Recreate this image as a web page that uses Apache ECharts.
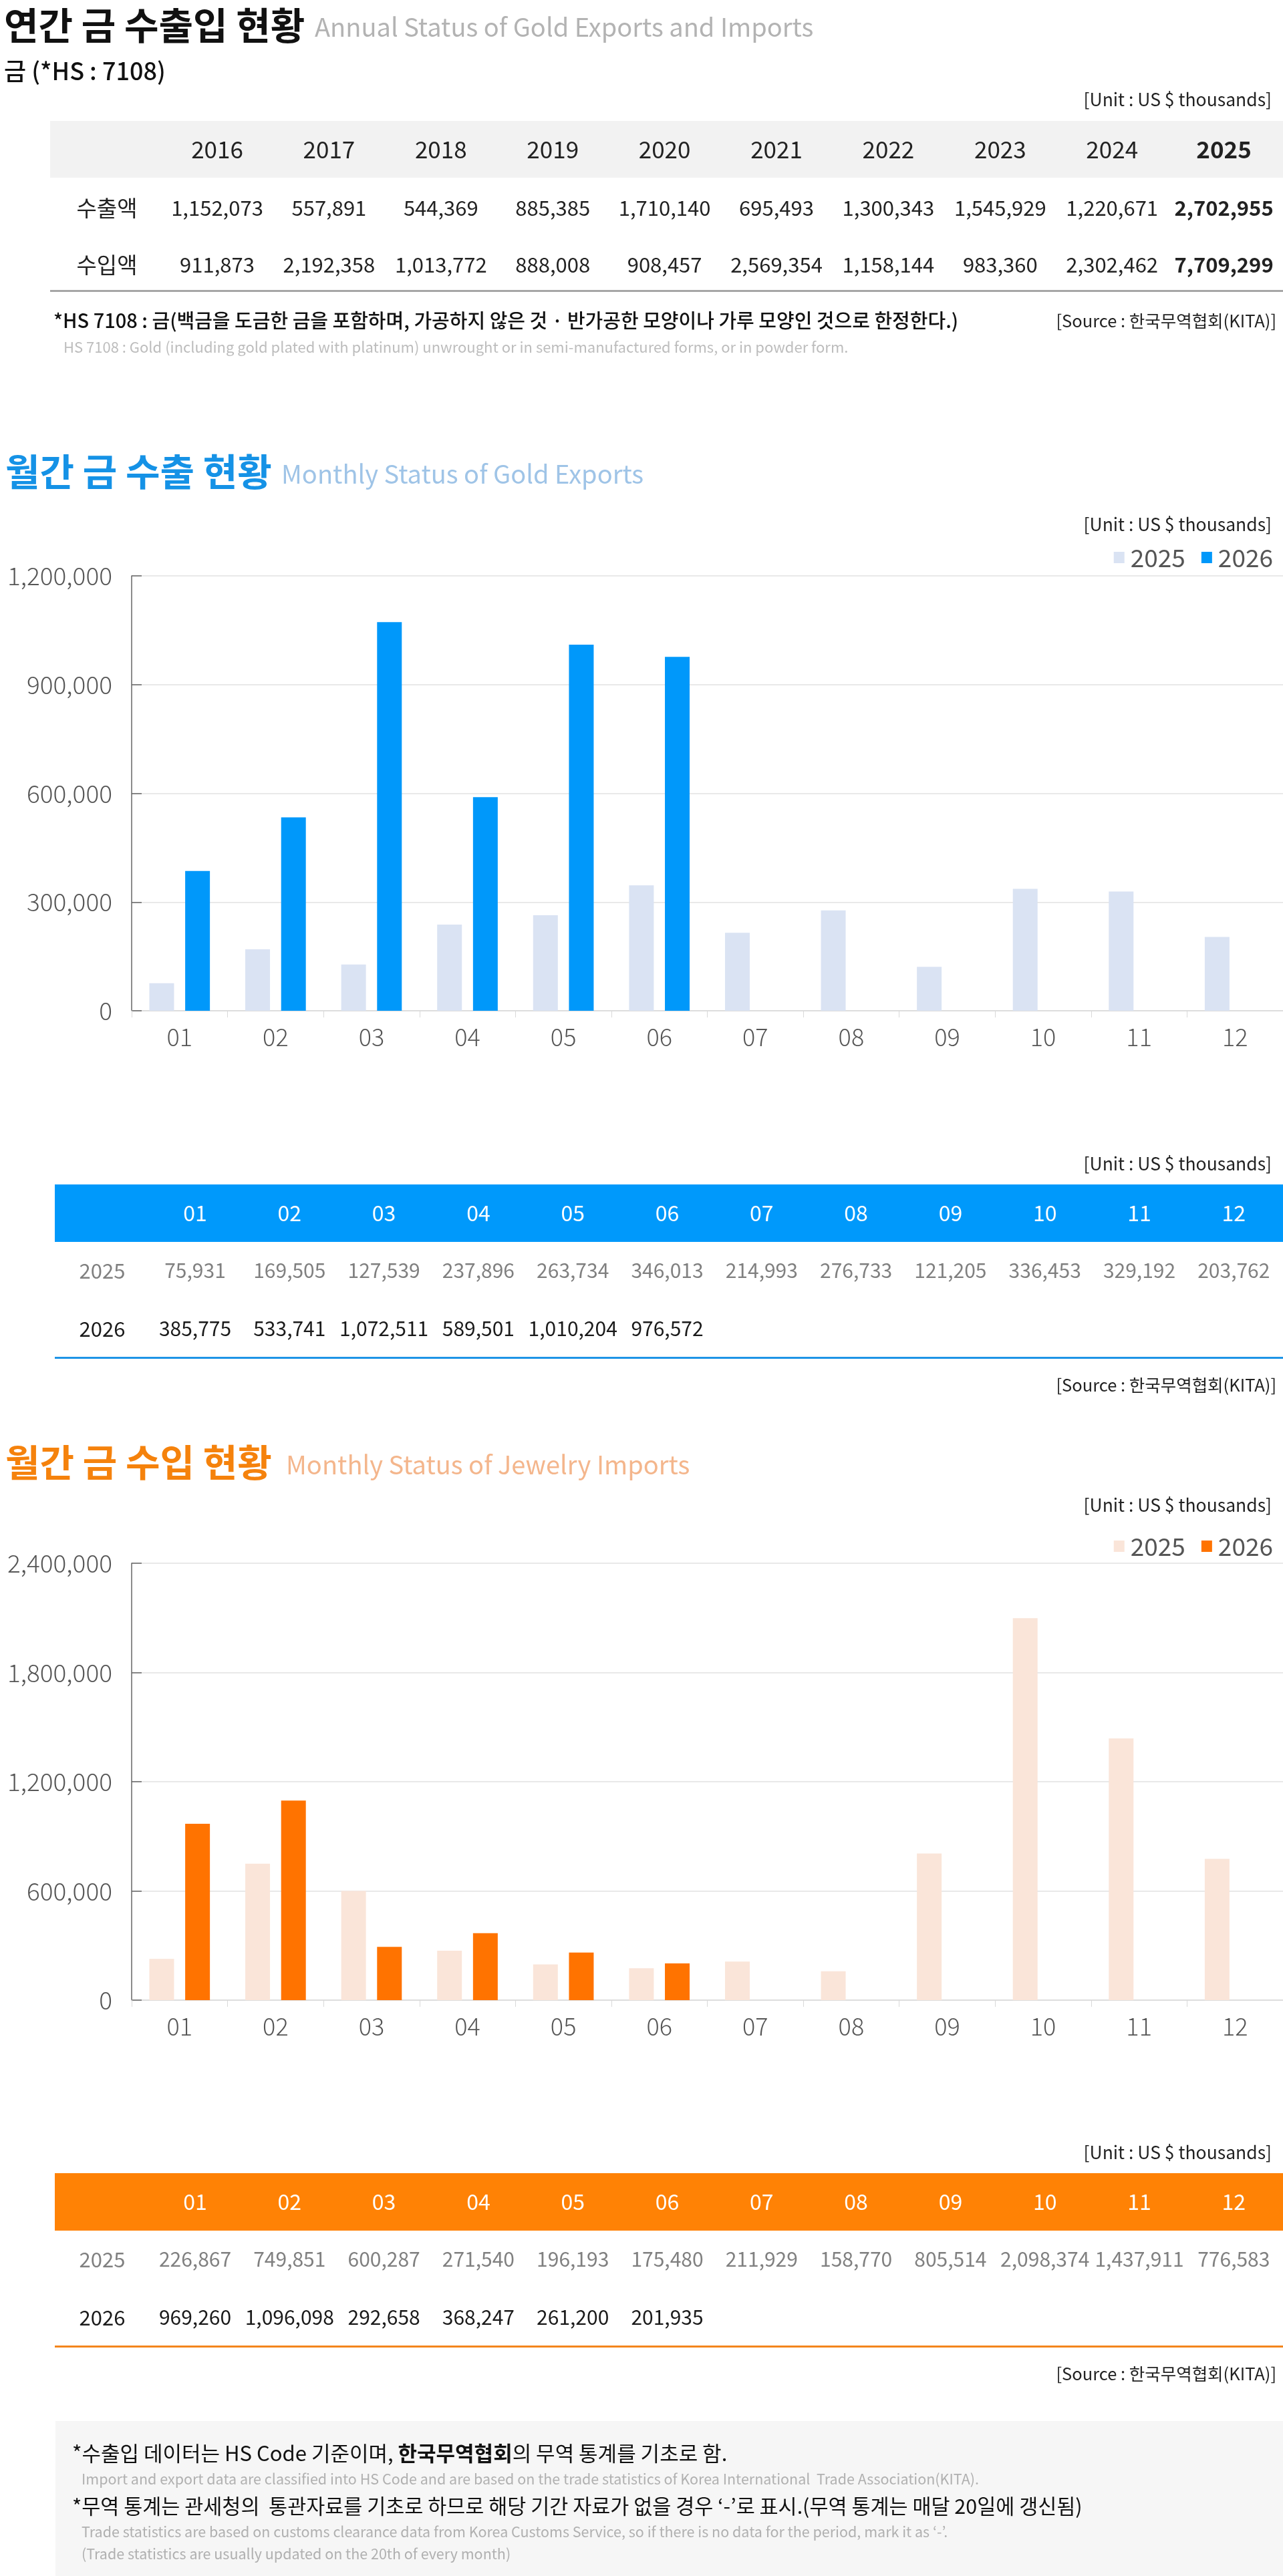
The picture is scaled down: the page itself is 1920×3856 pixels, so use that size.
<!DOCTYPE html>
<html>
<head>
<meta charset="utf-8">
<script src="https://cdn.jsdelivr.net/npm/echarts@6/dist/echarts.min.js"></script>
<style>
  html, body { margin: 0; padding: 0; background: #fff; }
  #page { width: 1920px; height: 3856px; }
</style>
</head>
<body>
<div id="page"></div>
<script>
// 연간 (annual) table
const years = ['2016', '2017', '2018', '2019', '2020', '2021', '2022', '2023', '2024', '2025'];
const annualExport = [1152073, 557891, 544369, 885385, 1710140, 695493, 1300343, 1545929, 1220671, 2702955];
const annualImport = [911873, 2192358, 1013772, 888008, 908457, 2569354, 1158144, 983360, 2302462, 7709299];

// 월간 (monthly) data
const months = ['01', '02', '03', '04', '05', '06', '07', '08', '09', '10', '11', '12'];
const export2025 = [75931, 169505, 127539, 237896, 263734, 346013, 214993, 276733, 121205, 336453, 329192, 203762];
const export2026 = [385775, 533741, 1072511, 589501, 1010204, 976572];
const import2025 = [226867, 749851, 600287, 271540, 196193, 175480, 211929, 158770, 805514, 2098374, 1437911, 776583];
const import2026 = [969260, 1096098, 292658, 368247, 261200, 201935];

const FONT = "'Noto Sans CJK KR', 'Noto Sans', sans-serif";
const fmt = v => v.toLocaleString('en-US');

function txt(x, y, text, size, color, weight, align) {
  return {
    type: 'text', x: x, y: y, silent: true,
    style: {
      text: text, fill: color,
      font: (weight || 'normal') + ' ' + size + 'px ' + FONT,
      textAlign: align || 'left', textVerticalAlign: 'middle',
      align: align || 'left', verticalAlign: 'middle'
    }
  };
}
function box(x, y, w, h, color) {
  return { type: 'rect', silent: true, shape: { x: x, y: y, width: w, height: h }, style: { fill: color } };
}

const g = [];

// ---- 연간 금 수출입 현황
g.push(txt(6, 38, '연간 금 수출입 현황', 56, '#111', 'bold'));
g.push(txt(471, 41, 'Annual Status of Gold Exports and Imports', 38, '#b3b3b3'));
g.push(txt(6, 106, '금 (*HS : 7108)', 36, '#111', '500'));
g.push(txt(1903, 149, '[Unit : US $ thousands]', 26.5, '#222', 'normal', 'right'));
g.push(box(75, 181, 1845, 85, '#f2f2f2'));
years.forEach(function (y, i) {
  const cx = 325 + 167.4 * i;
  const last = i === years.length - 1;
  g.push(txt(cx, 224, y, 35, '#222', last ? 'bold' : 'normal', 'center'));
  g.push(txt(cx, 311, fmt(annualExport[i]), 31, '#222', last ? 'bold' : 'normal', 'center'));
  g.push(txt(cx, 396, fmt(annualImport[i]), 31, '#222', last ? 'bold' : 'normal', 'center'));
});
g.push(txt(160, 311, '수출액', 33, '#222', 'normal', 'center'));
g.push(txt(160, 396, '수입액', 33, '#222', 'normal', 'center'));
g.push(box(75, 434, 1845, 3, '#a6a6a6'));
g.push(txt(80, 480, '*HS 7108 : 금(백금을 도금한 금을 포함하며, 가공하지 않은 것 · 반가공한 모양이나 가루 모양인 것으로 한정한다.)', 29, '#111', '500'));
g.push(txt(1910, 480, '[Source : 한국무역협회(KITA)]', 25.5, '#222', 'normal', 'right'));
g.push(txt(95, 520, 'HS 7108 : Gold (including gold plated with platinum) unwrought or in semi-manufactured forms, or in powder form.', 22, '#bdbdbd'));

// ---- 월간 금 수출 현황
g.push(txt(8, 706, '월간 금 수출 현황', 56, '#1592e6', 'bold'));
g.push(txt(421, 710, 'Monthly Status of Gold Exports', 38, '#9fc4e7'));
g.push(txt(1903, 785, '[Unit : US $ thousands]', 26.5, '#222', 'normal', 'right'));

// monthly table helper
function monthTable(top, headColor, lineColor, rowA, rowB) {
  g.push(txt(1903, top - 31, '[Unit : US $ thousands]', 26.5, '#222', 'normal', 'right'));
  g.push(box(82, top, 1838, 86, headColor));
  g.push(txt(153, top + 129, '2025', 31, '#808080', 'normal', 'center'));
  g.push(txt(153, top + 216, '2026', 31, '#1a1a1a', 'normal', 'center'));
  months.forEach(function (m, i) {
    const cx = 292 + 141.3 * i;
    g.push(txt(cx, top + 43, m, 32, '#fff', 'normal', 'center'));
    if (rowA[i] != null) g.push(txt(cx, top + 129, fmt(rowA[i]), 30, '#808080', 'normal', 'center'));
    if (rowB[i] != null) g.push(txt(cx, top + 216, fmt(rowB[i]), 30, '#1a1a1a', 'normal', 'center'));
  });
  g.push(box(82, top + 258, 1838, 3, lineColor));
  g.push(txt(1910, top + 300, '[Source : 한국무역협회(KITA)]', 25.5, '#222', 'normal', 'right'));
}
monthTable(1773, '#0099fb', '#1d94e6', export2025, export2026);

// ---- 월간 금 수입 현황
g.push(txt(8, 2189, '월간 금 수입 현황', 56, '#f5820c', 'bold'));
g.push(txt(428, 2193, 'Monthly Status of Jewelry Imports', 38, '#f4b68c'));
g.push(txt(1903, 2253, '[Unit : US $ thousands]', 26.5, '#222', 'normal', 'right'));

monthTable(3253, '#ff8205', '#f3851c', import2025, import2026);

// ---- notes
g.push(box(83, 3624, 1837, 232, '#f6f6f6'));
g.push({
  type: 'text', x: 108, y: 3672, silent: true,
  style: {
    text: '*수출입 데이터는 HS Code 기준이며, {b|한국무역협회}의 무역 통계를 기초로 함.',
    fill: '#111', font: 'normal 31px ' + FONT,
    textVerticalAlign: 'middle', verticalAlign: 'middle',
    rich: { b: { fontWeight: 'bold', fontSize: 31, fontFamily: FONT, fill: '#111' } }
  }
});
g.push(txt(122, 3711, 'Import and export data are classified into HS Code and are based on the trade statistics of Korea International  Trade Association(KITA).', 21.5, '#b0b0b0'));
g.push(txt(108, 3751, '*무역 통계는 관세청의  통관자료를 기초로 하므로 해당 기간 자료가 없을 경우 ‘-’로 표시.(무역 통계는 매달 20일에 갱신됨)', 30.5, '#111'));
g.push(txt(122, 3790, 'Trade statistics are based on customs clearance data from Korea Customs Service, so if there is no data for the period, mark it as ‘-’.', 21.5, '#b0b0b0'));
g.push(txt(122, 3823, '(Trade statistics are usually updated on the 20th of every month)', 21.5, '#b0b0b0'));

// ---- charts
function xAxisOf(grid) {
  return {
    gridIndex: grid, type: 'category', data: months,
    axisLine: { lineStyle: { color: '#d9d9d9', width: 1.5 } },
    axisTick: { show: true, length: 10, lineStyle: { color: '#d9d9d9' } },
    axisLabel: { fontSize: 36, color: '#555', margin: 21, fontFamily: FONT, fontWeight: 300 }
  };
}
function yAxisOf(grid, max, step) {
  return {
    gridIndex: grid, type: 'value', min: 0, max: max, interval: step,
    axisLine: { show: true, lineStyle: { color: '#666', width: 1.5 } },
    axisTick: { show: true, inside: true, length: 15, lineStyle: { color: '#666', width: 1.5 } },
    splitLine: { lineStyle: { color: '#e2e2e2', width: 1.5 } },
    axisLabel: { fontSize: 37, color: '#555', margin: 29, fontFamily: FONT, fontWeight: 300, formatter: fmt }
  };
}
function legendOf(top, c1, c2) {
  return {
    right: 10, top: top, selectedMode: false,
    itemWidth: 16, itemHeight: 17, itemGap: 24,
    textStyle: { fontSize: 37, color: '#555', fontFamily: FONT, padding: [0, 0, 0, 4] },
    data: [{ name: '2025', icon: 'rect', itemStyle: { color: c1 } }, { name: '2026', icon: 'rect', itemStyle: { color: c2 } }]
  };
}

const chart = echarts.init(document.getElementById('page'));
chart.setOption({
  animation: false,
  textStyle: { fontFamily: FONT },
  grid: [
    { left: 197, right: 0, top: 862, height: 651 },
    { left: 197, right: 0, top: 2340, height: 654 }
  ],
  legend: [legendOf(811, '#dae3f3', '#0098fa'), legendOf(2291, '#fae5d9', '#ff7300')],
  xAxis: [xAxisOf(0), xAxisOf(1)],
  yAxis: [yAxisOf(0, 1200000, 300000), yAxisOf(1, 2400000, 600000)],
  series: [
    { name: '2025', type: 'bar', xAxisIndex: 0, yAxisIndex: 0, data: export2025, barWidth: 37, itemStyle: { color: '#dae3f3' } },
    { name: '2026', type: 'bar', xAxisIndex: 0, yAxisIndex: 0, data: export2026, barWidth: 37, barGap: '45%', itemStyle: { color: '#0098fa' } },
    { name: '2025', type: 'bar', xAxisIndex: 1, yAxisIndex: 1, data: import2025, barWidth: 37, itemStyle: { color: '#fae5d9' } },
    { name: '2026', type: 'bar', xAxisIndex: 1, yAxisIndex: 1, data: import2026, barWidth: 37, barGap: '45%', itemStyle: { color: '#ff7300' } }
  ],
  graphic: { elements: g }
});
</script>
</body>
</html>
